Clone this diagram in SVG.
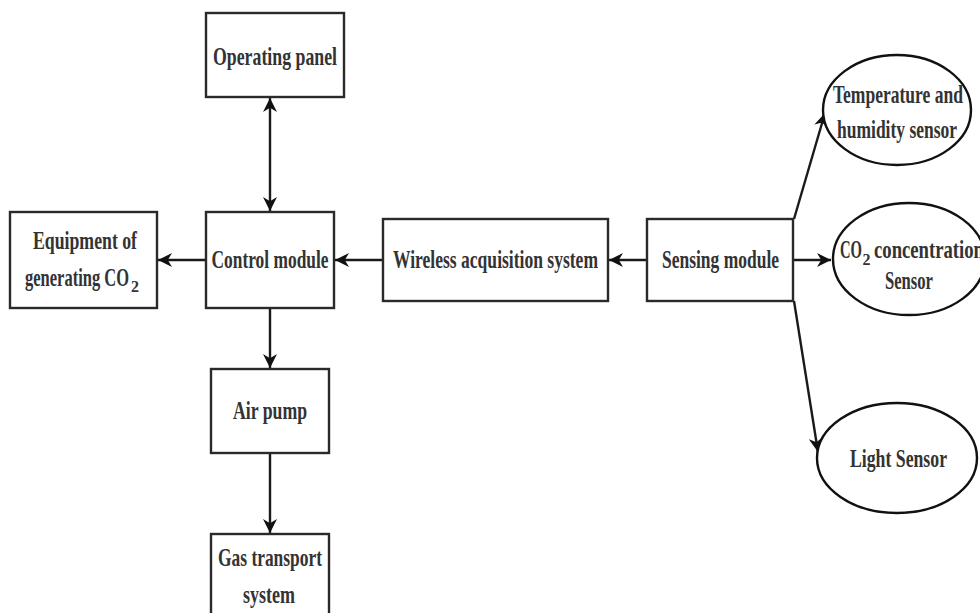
<svg xmlns="http://www.w3.org/2000/svg" width="980" height="613" viewBox="0 0 980 613">
<style>
.box{fill:#fff;stroke:#2a2a2a;stroke-width:2.4}
.ell{fill:#fff;stroke:#111;stroke-width:2.4}
.lbl{font-family:"Liberation Serif","Times New Roman",serif;font-weight:bold;font-size:26px;fill:#333;text-anchor:middle}
.lbs{font-family:"Liberation Serif","Times New Roman",serif;font-weight:bold;font-size:26px;fill:#333}
.sub{font-family:"Liberation Serif","Times New Roman",serif;font-weight:bold;font-size:17px;fill:#333}
.con{fill:none;stroke:#1a1a1a;stroke-width:2.4}
</style>
<defs>
<marker id="arr" viewBox="0 0 10 10" refX="10" refY="5" markerWidth="14" markerHeight="14" markerUnits="userSpaceOnUse" orient="auto-start-reverse">
<path d="M0,0 L10,5 L0,10 L3,5 z" fill="#111"/>
</marker>
</defs>
<rect width="980" height="613" fill="#fff"/>
<g id="connectors">
<line class="con" x1="270" y1="98" x2="270" y2="211" marker-start="url(#arr)" marker-end="url(#arr)"/>
<line class="con" x1="206" y1="260" x2="158" y2="260" marker-end="url(#arr)"/>
<line class="con" x1="383" y1="260" x2="335" y2="260" marker-end="url(#arr)"/>
<line class="con" x1="647" y1="260" x2="609" y2="260" marker-end="url(#arr)"/>
<line class="con" x1="270" y1="308" x2="270" y2="368" marker-end="url(#arr)"/>
<line class="con" x1="270" y1="453" x2="270" y2="533" marker-end="url(#arr)"/>
<line class="con" x1="793" y1="260" x2="831" y2="260" marker-end="url(#arr)"/>
<line class="con" x1="794" y1="219" x2="825" y2="113" marker-end="url(#arr)"/>
<line class="con" x1="794" y1="301" x2="818" y2="452" marker-end="url(#arr)"/>
</g>
<g id="operating-panel">
<rect class="box" x="206" y="13" width="138" height="84"/>
<text class="lbl" x="275" y="65" textLength="124" lengthAdjust="spacingAndGlyphs">Operating panel</text>
</g>
<g id="control-module">
<rect class="box" x="206" y="212" width="128" height="96"/>
<text class="lbl" x="270" y="268" textLength="117" lengthAdjust="spacingAndGlyphs">Control module</text>
</g>
<g id="equipment">
<rect class="box" x="10" y="212" width="147" height="96"/>
<text class="lbl" x="85" y="249" textLength="104" lengthAdjust="spacingAndGlyphs">Equipment of</text>
<text class="lbs" x="25" y="286" textLength="104" lengthAdjust="spacingAndGlyphs">generating CO</text>
<text class="sub" x="131" y="292" textLength="8" lengthAdjust="spacingAndGlyphs">2</text>
</g>
<g id="wireless">
<rect class="box" x="383" y="219" width="225" height="82"/>
<text class="lbl" x="495.5" y="268" textLength="205" lengthAdjust="spacingAndGlyphs">Wireless acquisition system</text>
</g>
<g id="sensing-module">
<rect class="box" x="647" y="219" width="146" height="82"/>
<text class="lbl" x="720.5" y="268" textLength="117" lengthAdjust="spacingAndGlyphs">Sensing module</text>
</g>
<g id="air-pump">
<rect class="box" x="211" y="369" width="118" height="84"/>
<text class="lbl" x="270" y="419" textLength="74" lengthAdjust="spacingAndGlyphs">Air pump</text>
</g>
<g id="gas-transport">
<rect class="box" x="211" y="534" width="118" height="90"/>
<text class="lbl" x="270" y="566" textLength="104" lengthAdjust="spacingAndGlyphs">Gas transport</text>
<text class="lbl" x="269" y="603" textLength="52" lengthAdjust="spacingAndGlyphs">system</text>
</g>
<g id="temp-humidity-sensor">
<ellipse class="ell" cx="897" cy="110" rx="74" ry="55"/>
<text class="lbl" x="898" y="103" textLength="130" lengthAdjust="spacingAndGlyphs">Temperature and</text>
<text class="lbl" x="897" y="138" textLength="120" lengthAdjust="spacingAndGlyphs">humidity sensor</text>
</g>
<g id="co2-sensor">
<ellipse class="ell" cx="909" cy="259" rx="76" ry="56"/>
<text class="lbs" x="840" y="258" textLength="22" lengthAdjust="spacingAndGlyphs">CO</text>
<text class="sub" x="862.5" y="265" textLength="8" lengthAdjust="spacingAndGlyphs">2</text>
<text class="lbs" x="874" y="258" textLength="110" lengthAdjust="spacingAndGlyphs">concentration</text>
<text class="lbl" x="909" y="289" textLength="48" lengthAdjust="spacingAndGlyphs">Sensor</text>
</g>
<g id="light-sensor">
<ellipse class="ell" cx="897" cy="458" rx="80" ry="55"/>
<text class="lbl" x="898.5" y="467" textLength="97" lengthAdjust="spacingAndGlyphs">Light Sensor</text>
</g>
</svg>
